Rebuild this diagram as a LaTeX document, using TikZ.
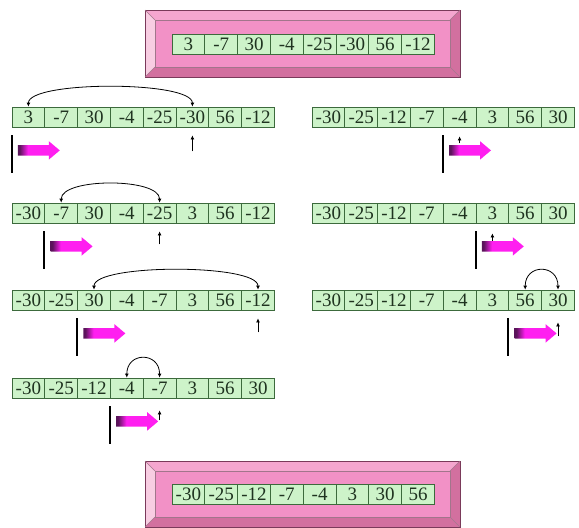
\documentclass[tikz,border=0pt]{standalone}
\usepackage{fontspec}
\setmainfont{Liberation Serif}
\usetikzlibrary{arrows.meta,shapes.arrows}
\definecolor{cellfill}{HTML}{CDF3C9}
\definecolor{celldraw}{HTML}{3C6A3C}
\definecolor{celltext}{HTML}{1F3320}
\definecolor{boxface}{HTML}{F291C6}
\definecolor{boxlight}{HTML}{F8CDE2}
\definecolor{boxmid}{HTML}{F5A6CF}
\definecolor{boxdark}{HTML}{D2709F}
\definecolor{boxline}{HTML}{7A3A5A}
\definecolor{pinkarrow}{HTML}{FF1FF0}
\definecolor{darkarrow}{HTML}{5A145A}
\pgfdeclarehorizontalshading{arrshade}{100bp}{color(0bp)=(darkarrow); color(25bp)=(darkarrow); color(27bp)=(darkarrow); color(37bp)=(pinkarrow); color(100bp)=(pinkarrow)}
\tikzset{
  cell/.style={draw=celldraw, fill=cellfill, line width=0.8pt, minimum width=32.8pt,
    minimum height=20pt, inner sep=0pt, text=celltext, font=\fontsize{19}{19}\selectfont},
  swaparc/.style={line width=0.8pt, {Latex[length=4pt,width=4pt]}-{Latex[length=4pt,width=4pt]}},
  uparr/.style={line width=0.8pt, -{Latex[length=4pt,width=4pt]}},
  bar/.style={line width=2pt},
  pinkarr/.style={single arrow, shading=arrshade, draw=none, minimum height=42pt,
    inner xsep=0pt, inner ysep=5pt, single arrow head extend=4pt, single arrow tip angle=80,
    anchor=west}
}
\newcommand\cellrow[4]{% name, x0, yc, list
  \foreach \v [count=\i from 0] in {#4} {
    \node[cell] (#1-\i) at ({#2+16.4+32.8*\i},#3) {\v};
  }}
\newcommand\bevelbox[3]{% x0, y0, y1
  \fill[boxmid] (#1,#2) -- (#1+315,#2) -- (#1+305,#2+10) -- (#1+10,#2+10) -- cycle;
  \fill[boxlight] (#1,#2) -- (#1+10,#2+10) -- (#1+10,#3-10) -- (#1,#3) -- cycle;
  \fill[boxdark] (#1,#3) -- (#1+10,#3-10) -- (#1+305,#3-10) -- (#1+315,#3) -- cycle;
  \fill[boxdark] (#1+315,#2) -- (#1+305,#2+10) -- (#1+305,#3-10) -- (#1+315,#3) -- cycle;
  \fill[boxface] (#1+10,#2+10) rectangle (#1+305,#3-10);
  \draw[boxline, line width=0.8pt] (#1,#2) rectangle (#1+315,#3);
  \draw[boxline!70, line width=0.5pt] (#1+10,#2+10) rectangle (#1+305,#3-10);
  \draw[boxline!70, line width=0.5pt] (#1,#2) -- (#1+10,#2+10) (#1+315,#2) -- (#1+305,#2+10)
     (#1,#3) -- (#1+10,#3-10) (#1+315,#3) -- (#1+305,#3-10);
}
\begin{document}
\begin{tikzpicture}[x=1pt,y=-1pt]
\useasboundingbox (0,0) rectangle (579,528);
% top box
\bevelbox{145}{10}{77}
\cellrow{T}{172}{44}{3,-7,30,-4,-25,-30,56,-12}
% bottom box
\bevelbox{145}{461}{527}
\cellrow{B}{172}{494}{-30,-25,-12,-7,-4,3,30,56}
% left column
\cellrow{La}{12}{117}{3,-7,30,-4,-25,-30,56,-12}
\cellrow{Lb}{12}{213}{-30,-7,30,-4,-25,3,56,-12}
\cellrow{Lc}{12}{300}{-30,-25,30,-4,-7,3,56,-12}
\cellrow{Ld}{12}{388}{-30,-25,-12,-4,-7,3,56,30}
% right column
\cellrow{Ra}{312}{117}{-30,-25,-12,-7,-4,3,56,30}
\cellrow{Rb}{312}{213}{-30,-25,-12,-7,-4,3,56,30}
\cellrow{Rc}{312}{300}{-30,-25,-12,-7,-4,3,56,30}
% swap arcs
\draw[swaparc] (La-0.north) .. controls +(0,-26) and +(0,-26) .. (La-5.north);
\draw[swaparc] (Lb-1.north) .. controls +(0,-25) and +(0,-25) .. (Lb-4.north);
\draw[swaparc] (Lc-2.north) .. controls +(0,-26) and +(0,-26) .. (Lc-7.north);
\draw[swaparc] (Ld-3.north) .. controls +(0,-26) and +(0,-26) .. (Ld-4.north);
\draw[swaparc] (Rc-6.north) .. controls +(0,-26) and +(0,-26) .. (Rc-7.north);
% bars
\foreach \r/\c in {La/0,Lb/1,Lc/2,Ld/3,Ra/4,Rb/5,Rc/6} {
  \draw[bar] ([yshift=-8pt]\r-\c.south west) -- ([yshift=-46pt]\r-\c.south west);
}
% small up arrows
\draw[uparr] ([yshift=-24pt]La-5.south) -- ([yshift=-8pt]La-5.south);
\draw[uparr] ([yshift=-21pt]Lb-4.south) -- ([yshift=-8pt]Lb-4.south);
\draw[uparr] ([yshift=-22pt]Lc-7.south) -- ([yshift=-8pt]Lc-7.south);
\draw[uparr] ([yshift=-22pt]Ld-4.south) -- ([yshift=-12pt]Ld-4.south);
\draw[uparr] ([yshift=-16pt]Ra-4.south) -- ([yshift=-9pt]Ra-4.south);
\draw[uparr] ([yshift=-20pt]Rb-5.south) -- ([yshift=-10pt]Rb-5.south);
\draw[uparr] ([yshift=-26pt]Rc-7.south) -- ([yshift=-12pt]Rc-7.south);
% pink arrows
\foreach \r/\c in {La/0,Lb/1,Lc/2,Ld/3,Ra/4,Rb/5,Rc/6} {
  \node[pinkarr] (P\r) at ([xshift=6pt,yshift=-23pt]\r-\c.south west) {};
}
\end{tikzpicture}
\end{document}
